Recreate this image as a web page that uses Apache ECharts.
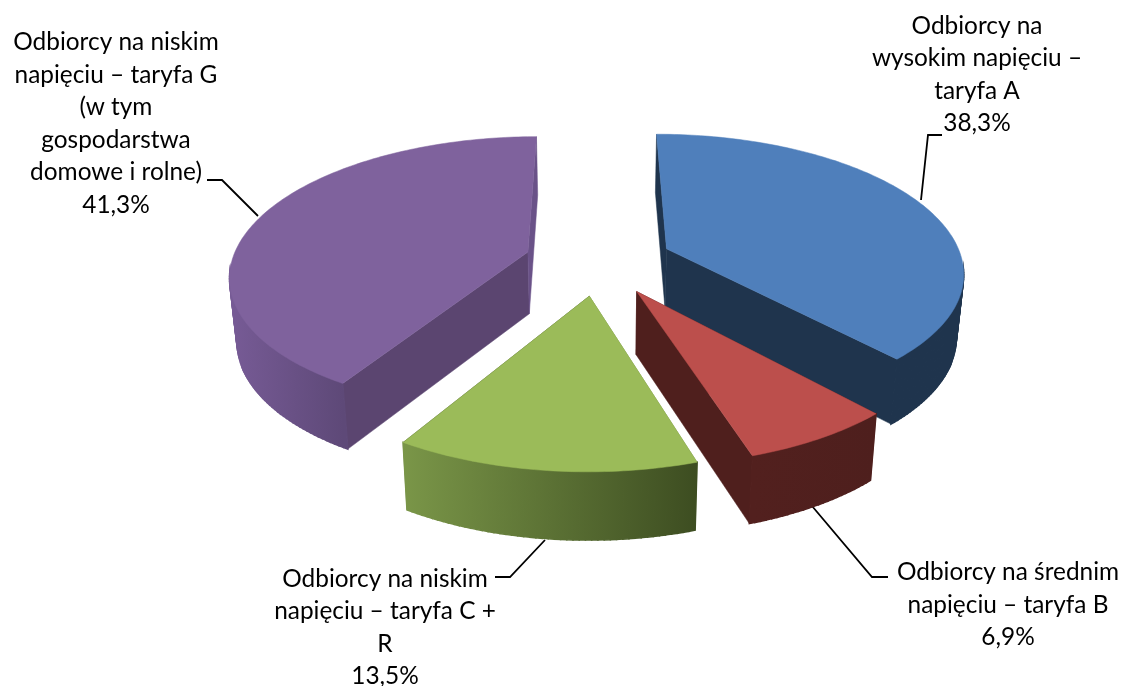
<!DOCTYPE html>
<html>
<head>
<meta charset="utf-8">
<title>Odbiorcy</title>
<script src="https://cdn.jsdelivr.net/npm/echarts@6/dist/echarts.min.js"></script>
<style>
  html, body { margin: 0; background: #fff; }
  #chart { width: 1124px; height: 686px; }
</style>
</head>
<body>
<div id="chart"></div>
<script>
  const names = [
    'Odbiorcy na\nwysokim napięciu –\ntaryfa A',
    'Odbiorcy na średnim\nnapięciu – taryfa B',
    'Odbiorcy na niskim\nnapięciu – taryfa C +\nR',
    'Odbiorcy na niskim\nnapięciu – taryfa G\n(w tym\ngospodarstwa\ndomowe i rolne)'
  ]
  const values = [38.3, 6.9, 13.5, 41.3]

  // colours per slice: top face, cut walls (start side, end side), outer wall gradient
  const topColors = ['#4F7FBB', '#BC4F4C', '#9BBB59', '#7F629D']
  const cutColors = [['#1F344D', '#1F344D'], ['#4F1F1D', '#4F1F1D'], ['#6F8A3E', '#3D4D21'], ['#5B4570', '#6A5288']]
  const rimColors = [['#1F344D', '#1F344D'], ['#52201E', '#4E1F1D'], ['#7A9648', '#3D4D21'], ['#775B96', '#5E4978']]

  // label centre and leader line, same order as the values
  const labelAt = [[977, 74.5], [1008, 605], [385, 627.5], [116, 123.5]]
  const leaders = [
    [[921, 200], [928, 135], [942, 135]],
    [[812, 506], [872, 577], [888, 577]],
    [[545, 540], [510, 577], [495, 577]],
    [[258, 216], [222, 180], [207, 180]]
  ]

  // tilted pie projection
  const cx = 598.5, cy = 261, rx = 296, ry = 136, persp = 0.156
  const explode = 0.25, startAngle = -0.2, depth = 62, shrink = 0.98

  function project (X, Y, bottom) {
    const s = 1 / (1 - persp * Y)
    const x = cx + rx * X * s
    const y = cy + ry * Y * s
    if (!bottom) return [x, y]
    return [cx + (x - cx) * shrink, y + depth * (1 + 0.42 * (s - 1))]
  }

  const total = values.reduce((a, b) => a + b, 0)

  function renderSlice (params, api) {
    const i = params.dataIndex
    let before = 0
    for (let k = 0; k < i; k++) before += values[k]
    const a0 = startAngle + before / total * 360
    const a1 = a0 + api.value(0) / total * 360
    const mid = (a0 + a1) / 2 * Math.PI / 180
    const ox = explode * Math.sin(mid)
    const oy = -explode * Math.cos(mid)

    const top = [], low = [], faces = [], front = []
    const n = Math.ceil(a1 - a0)
    for (let k = 0; k <= n; k++) {
      const a = (a0 + (a1 - a0) * k / n) * Math.PI / 180
      const X = ox + Math.sin(a)
      const Y = oy - Math.cos(a)
      top.push(project(X, Y, false))
      low.push(project(X, Y, true))
      faces.push(Math.cos(a) < -0.12)
      if (faces[k]) front.push(top[k][0])
    }
    const apexTop = project(ox, oy, false)
    const apexLow = project(ox, oy, true)
    const poly = (points, fill, stroke) => ({
      type: 'polygon',
      shape: { points: points },
      style: { fill: fill, stroke: fill, lineWidth: stroke || 0.5 }
    })
    const shade = {
      type: 'linear',
      x: Math.min.apply(null, front),
      y: 0,
      x2: Math.max.apply(null, front),
      y2: 0,
      global: true,
      colorStops: [{ offset: 0, color: rimColors[i][0] }, { offset: 1, color: rimColors[i][1] }]
    }
    // outer wall is swept step by step so its silhouette stays tangent, back part is hidden anyway
    const wall = []
    for (let k = 0; k < n; k++) {
      if (faces[k] && faces[k + 1]) {
        wall.push(poly([top[k], top[k + 1], low[k + 1], low[k]], shade, 1.5))
      }
    }

    return {
      type: 'group',
      children: [
        {
          type: 'polyline',
          shape: { points: leaders[i] },
          style: { stroke: '#000', fill: 'none', lineWidth: 1.8 }
        },
        poly([apexTop, top[0], low[0], apexLow], cutColors[i][0]),
        poly([apexTop, top[n], low[n], apexLow], cutColors[i][1])
      ].concat(wall, [
        poly([apexTop].concat(top), topColors[i]),
        {
          type: 'text',
          style: {
            x: labelAt[i][0],
            y: labelAt[i][1],
            text: names[i] + '\n' + api.value(0).toFixed(1).replace('.', ',') + '%',
            fill: '#000',
            font: '24.4px Lato',
            lineHeight: 32.5,
            align: 'center',
            verticalAlign: 'middle'
          }
        }
      ])
    }
  }

  const myChart = echarts.init(document.getElementById('chart'))
  myChart.setOption({
    animation: false,
    backgroundColor: '#fff',
    series: [{
      type: 'custom',
      coordinateSystem: 'none',
      silent: true,
      renderItem: renderSlice,
      data: values.map(v => [v])
    }]
  })
</script>
</body>
</html>
